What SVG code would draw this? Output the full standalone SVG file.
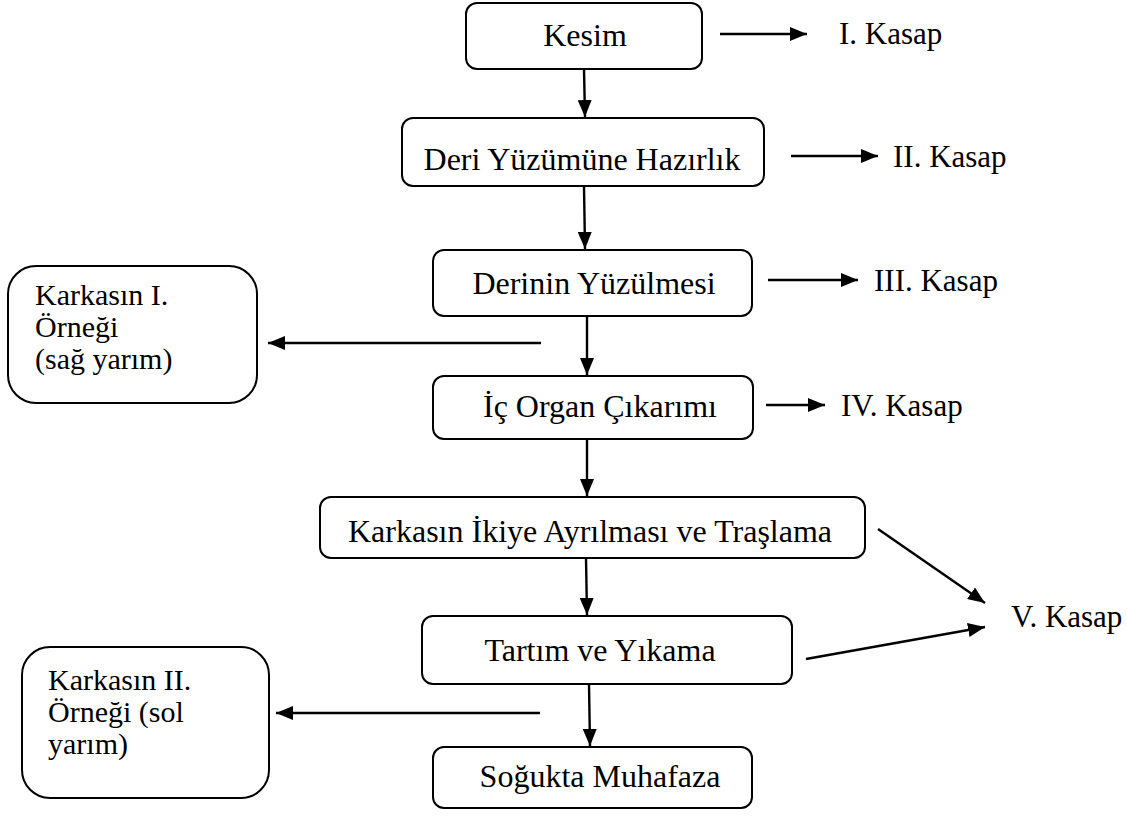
<svg xmlns="http://www.w3.org/2000/svg" width="1127" height="816" viewBox="0 0 1127 816">
<defs>
<marker id="ah" markerWidth="17" markerHeight="14" refX="17" refY="7" orient="auto" markerUnits="userSpaceOnUse">
<path d="M0,0 L17,7 L0,14 Z" fill="#000"/>
</marker>
<style>
.box{fill:#fff;stroke:#000;stroke-width:2}
.t{font-family:"Liberation Serif","Times New Roman",serif;font-size:32px;fill:#000}
.s{font-size:30px}
.k{font-size:31px}
.c{text-anchor:middle}
.ln{stroke:#000;stroke-width:2.4;fill:none;marker-end:url(#ah)}
</style>
</defs>
<rect width="1127" height="816" fill="#fff"/>
<g id="connectors">
<line class="ln" x1="720" y1="34" x2="807" y2="34"/>
<line class="ln" x1="791" y1="156" x2="878" y2="156"/>
<line class="ln" x1="768" y1="280" x2="858" y2="280"/>
<line class="ln" x1="766" y1="405" x2="825" y2="405"/>
<line class="ln" x1="541" y1="343" x2="268" y2="343"/>
<line class="ln" x1="540" y1="713" x2="276" y2="713"/>
<line class="ln" x1="584" y1="69" x2="585" y2="117"/>
<line class="ln" x1="584" y1="186" x2="585" y2="249"/>
<line class="ln" x1="587" y1="316" x2="587" y2="375"/>
<line class="ln" x1="587" y1="439" x2="587" y2="496"/>
<line class="ln" x1="586" y1="558" x2="587" y2="615"/>
<line class="ln" x1="589" y1="684" x2="590" y2="746"/>
<line class="ln" x1="878" y1="529" x2="985" y2="603"/>
<line class="ln" x1="806" y1="659" x2="985" y2="627"/>
</g>
<g id="kesim"><rect class="box" x="466" y="3" width="236" height="66" rx="11"/><text class="t c" x="585" y="46">Kesim</text></g>
<g id="deri"><rect class="box" x="402" y="118" width="362" height="68" rx="11"/><text class="t c" x="582" y="170">Deri Yüzümüne Hazırlık</text></g>
<g id="derinin"><rect class="box" x="433" y="250" width="319" height="66" rx="11"/><text class="t c" x="594" y="294">Derinin Yüzülmesi</text></g>
<g id="icorgan"><rect class="box" x="433" y="376" width="320" height="63" rx="11"/><text class="t c" x="600" y="417">İç Organ Çıkarımı</text></g>
<g id="ikiye"><rect class="box" x="320" y="497" width="545" height="61" rx="11"/><text class="t c" x="590" y="542">Karkasın İkiye Ayrılması ve Traşlama</text></g>
<g id="tartim"><rect class="box" x="422" y="616" width="370" height="68" rx="11"/><text class="t c" x="600" y="661">Tartım ve Yıkama</text></g>
<g id="soguk"><rect class="box" x="433" y="747" width="319" height="61" rx="11"/><text class="t c" x="600" y="787">Soğukta Muhafaza</text></g>
<g id="ornek1"><rect class="box" x="8" y="266" width="249" height="137" rx="28"/><text class="t s" x="35"><tspan x="35" y="305">Karkasın I.</tspan><tspan x="35" y="337">Örneği</tspan><tspan x="35" y="369">(sağ yarım)</tspan></text></g>
<g id="ornek2"><rect class="box" x="22" y="647" width="247" height="151" rx="28"/><text class="t s" x="48"><tspan x="48" y="690">Karkasın II.</tspan><tspan x="48" y="722">Örneği (sol</tspan><tspan x="48" y="754">yarım)</tspan></text></g>
<g id="kasap1"><text class="t k" x="839" y="44">I. Kasap</text></g>
<g id="kasap2"><text class="t k" x="893" y="167">II. Kasap</text></g>
<g id="kasap3"><text class="t k" x="874" y="291">III. Kasap</text></g>
<g id="kasap4"><text class="t k" x="841" y="416">IV. Kasap</text></g>
<g id="kasap5"><text class="t k" x="1011" y="627">V. Kasap</text></g>
</svg>
